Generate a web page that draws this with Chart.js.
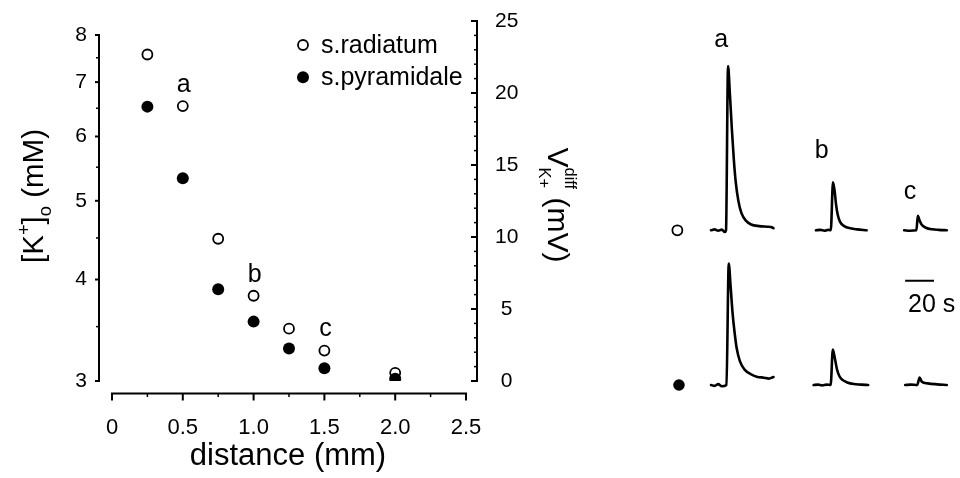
<!DOCTYPE html>
<html><head><meta charset="utf-8">
<script src="https://cdn.jsdelivr.net/npm/chart.js@4.4.1/dist/chart.umd.min.js"></script>
<style>
html,body{margin:0;padding:0;background:#fff;}
#wrap{position:relative;width:960px;height:478px;overflow:hidden;background:#fff;}
#c1{position:absolute;left:0;top:0;}
#c2{position:absolute;left:600px;top:0;}
</style></head><body>
<div id="wrap"><canvas id="c1" width="600" height="478"></canvas><canvas id="c2" width="360" height="478"></canvas></div>
<script>
// ---------- data: left panel ----------
const distanceMm   = [0.25, 0.5, 0.75, 1.0, 1.25, 1.5, 2.0];
const kRadiatum    = [7.57, 6.54, 4.49, 3.82, 3.48, 3.27, 3.07];
const kPyramidale  = [6.53, 5.33, 3.89, 3.55, 3.29, 3.11, 3.02];
const kTickValues  = [3, 4, 5, 6, 7, 8];
const kMinorTicks  = [3.5, 4.5, 5.5, 6.5, 7.5];
const vTickValues  = [0, 5, 10, 15, 20, 25];
const distanceTicks = [0, 0.5, 1.0, 1.5, 2.0, 2.5];
const seriesNames  = ['s.radiatum', 's.pyramidale'];
const pointLabels  = ['a', 'b', 'c'];
const pointLabelDistances = [0.5, 1.0, 1.5];

// ---------- data: right panel traces (time s, V mV) ----------
const tTopA = [0, 2.5, 5, 7.5, 9.6, 10.4, 11.8, 13.1, 14.5, 15.8, 17.1, 18.9, 21.1, 24.5, 27.8, 33.3, 38.9, 41.5, 43.3];
const vTopA = [0, 0.1, -0.05, 0.08, -0.2, 0, 19.2, 15.9, 11.7, 8.3, 5.7, 3.5, 2.0, 1.06, 0.68, 0.49, 0.42, 0.38, 0.25];
const tBotA = [0, 2.5, 5, 7.5, 10.7, 12.3, 13.6, 14.9, 16.3, 17.8, 20, 23.3, 27.8, 32.2, 36.7, 40, 43.3];
const vBotA = [0, -0.1, 0.1, -0.15, 0, 14.2, 11.5, 8.5, 6.2, 4.3, 2.8, 1.8, 1.25, 0.95, 0.86, 0.75, 0.94];
const tTopB = [0, 3, 6, 8.5, 10.3, 11.8, 12.9, 14, 15.1, 16.7, 19.6, 24, 28.5, 35.1];
const vTopB = [0, 0.05, -0.05, 0.05, 0, 5.6, 4.65, 2.95, 1.82, 0.98, 0.49, 0.23, 0.11, 0];
const tBotB = [0, 3, 6, 9, 11.8, 13.3, 14.9, 16.2, 17.8, 20, 23.3, 27.8, 33, 37.8];
const vBotB = [0, 0.05, -0.05, 0.05, 0, 4.16, 2.95, 1.82, 1.06, 0.6, 0.3, 0.11, 0.05, 0];
const tTopC = [0, 4, 8.5, 9.5, 10.7, 12.2, 15.1, 19.6, 24, 29.6];
const vTopC = [0, -0.05, 0, 1.7, 1.14, 0.65, 0.3, 0.11, 0.05, 0];
const tBotC = [0, 4, 8.4, 10, 11.6, 15.6, 22.2, 28.9];
const vBotC = [0, 0.05, 0, 0.86, 0.38, 0.19, 0.08, 0];
const scaleBarSeconds = 20;

// ---------- layout (not data) ----------
const FONT = '"Liberation Sans", Arial, sans-serif';
const traceLayout = [
  {t: tTopA, v: vTopA, row: 'yTop', onset: 72.2},
  {t: tBotA, v: vBotA, row: 'yBot', onset: 72.2},
  {t: tTopB, v: vTopB, row: 'yTop', onset: 144.9},
  {t: tBotB, v: vBotB, row: 'yBot', onset: 143.3},
  {t: tTopC, v: vTopC, row: 'yTop', onset: 206.0},
  {t: tBotC, v: vBotC, row: 'yBot', onset: 206.7}
];

function drawRich(ctx, parts, cx, cy, angle, size) {
  ctx.save();
  ctx.translate(cx, cy);
  ctx.rotate(angle);
  ctx.fillStyle = '#000';
  ctx.textBaseline = 'alphabetic';
  ctx.textAlign = 'left';
  let pending = 0;
  parts.forEach(p => {
    ctx.font = `${size * (p.s || 1)}px ${FONT}`;
    p.w = ctx.measureText(p.t).width;
  });
  const xs = [];
  let x = 0;
  for (let i = 0; i < parts.length; i++) {
    const p = parts[i];
    xs.push(x);
    if (p.stack) { pending = Math.max(pending, p.w); }
    else { x += Math.max(p.w, pending); pending = 0; }
  }
  const total = x;
  const base = 0.36 * size;
  parts.forEach((p, i) => {
    ctx.font = `${size * (p.s || 1)}px ${FONT}`;
    ctx.fillText(p.t, xs[i] - total / 2, base + (p.dy || 0) * size);
  });
  ctx.restore();
}

function seg(ctx, x1, y1, x2, y2) { ctx.beginPath(); ctx.moveTo(x1, y1); ctx.lineTo(x2, y2); ctx.stroke(); }

// ---------- left chart ----------
const leftDecor = {
  id: 'leftDecor',
  afterDraw(chart) {
    const {ctx, chartArea: ca} = chart;
    const x = chart.scales.x, yK = chart.scales.yK, yV = chart.scales.yV;
    ctx.save();
    ctx.strokeStyle = '#000';
    ctx.lineWidth = 2;
    // left log axis
    const xl = ca.left;
    seg(ctx, xl, yK.getPixelForValue(kTickValues[kTickValues.length - 1]) - 1, xl, yK.getPixelForValue(kTickValues[0]) + 1);
    kTickValues.forEach(v => { const y = yK.getPixelForValue(v); seg(ctx, xl - 4, y, xl, y); });
    ctx.lineWidth = 1.5;
    kMinorTicks.forEach(v => { const y = yK.getPixelForValue(v); seg(ctx, xl - 3, y, xl, y); });
    // right linear axis (bracket style, ticks inward)
    ctx.lineWidth = 2;
    const xr = ca.right;
    const v0 = vTickValues[0], v1 = vTickValues[vTickValues.length - 1];
    seg(ctx, xr, yV.getPixelForValue(v1) - 1, xr, yV.getPixelForValue(v0) + 1);
    for (let v = v0; v <= v1; v += 1) {
      const y = yV.getPixelForValue(v);
      const major = vTickValues.includes(v);
      ctx.lineWidth = major ? 2 : 1.5;
      seg(ctx, xr - (major ? 6 : 3), y, xr, y);
    }
    // bottom x axis (offset below plot)
    ctx.lineWidth = 2;
    const yb = ca.bottom + 12.5;
    const d0 = distanceTicks[0], d1 = distanceTicks[distanceTicks.length - 1];
    seg(ctx, x.getPixelForValue(d0) - 1, yb, x.getPixelForValue(d1) + 1, yb);
    for (let v = d0; v <= d1 + 1e-9; v += 0.25) {
      const px = x.getPixelForValue(v);
      const major = distanceTicks.some(t => Math.abs(t - v) < 1e-6);
      ctx.lineWidth = major ? 2 : 1.5;
      seg(ctx, px, yb, px, yb + (major ? 7 : 3.5));
    }
    ctx.restore();

    // legend
    ctx.save();
    const lx = ca.left + 204, ly0 = ca.top + 24, lgap = 32.3;
    chart.data.datasets.forEach((ds, i) => {
      const y = ly0 + i * lgap;
      ctx.beginPath();
      ctx.arc(lx, y, ds.pointRadius, 0, Math.PI * 2);
      ctx.fillStyle = ds.pointBackgroundColor;
      ctx.fill();
      if (ds.pointBorderWidth > 0) { ctx.lineWidth = ds.pointBorderWidth; ctx.strokeStyle = ds.pointBorderColor; ctx.stroke(); }
      ctx.fillStyle = '#000';
      ctx.font = `25px ${FONT}`;
      ctx.textBaseline = 'middle';
      ctx.textAlign = 'left';
      ctx.fillText(ds.label, lx + 18, y + 1);
    });
    // point labels a, b, c
    ctx.font = `25px ${FONT}`;
    ctx.textAlign = 'center';
    ctx.textBaseline = 'middle';
    pointLabels.forEach((lab, i) => {
      const d = pointLabelDistances[i];
      const idx = distanceMm.indexOf(d);
      const px = x.getPixelForValue(d) + 1;
      const py = yK.getPixelForValue(kRadiatum[idx]) - 21;
      ctx.fillText(lab, px, py);
    });
    ctx.restore();

    // axis titles
    drawRich(ctx, [
      {t: '[K'}, {t: '+', s: 0.62, dy: -0.42}, {t: ']'}, {t: 'o', s: 0.62, dy: 0.28}, {t: ' (mM)'}
    ], 32, 196, -Math.PI / 2, 29.5);
    drawRich(ctx, [
      {t: 'V'}, {t: 'K+', s: 0.55, dy: 0.3, stack: true}, {t: 'diff', s: 0.55, dy: -0.55}, {t: ' (mV)'}
    ], 559, 205, Math.PI / 2, 30);
  }
};

const noPadY = s => { s.paddingTop = 0; s.paddingBottom = 0; };

new Chart(document.getElementById('c1'), {
  type: 'scatter',
  data: {
    datasets: [
      {
        label: seriesNames[0],
        data: distanceMm.map((d, i) => ({x: d, y: kRadiatum[i]})),
        pointRadius: 5, pointBorderWidth: 1.8,
        pointBackgroundColor: '#fff', pointBorderColor: '#000',
        yAxisID: 'yK', order: 2
      },
      {
        label: seriesNames[1],
        data: distanceMm.map((d, i) => ({x: d, y: kPyramidale[i]})),
        pointRadius: 6, pointBorderWidth: 0,
        pointBackgroundColor: '#000', pointBorderColor: '#000',
        yAxisID: 'yK', order: 1
      }
    ]
  },
  options: {
    responsive: false,
    animation: false,
    layout: {padding: {top: 21, left: 0, right: 0, bottom: 0}},
    plugins: {legend: {display: false}, tooltip: {enabled: false}},
    scales: {
      x: {
        type: 'linear', position: 'bottom', min: -0.0918, max: 2.5777,
        grid: {display: false, drawTicks: false}, border: {display: false},
        afterBuildTicks: s => { s.ticks = distanceTicks.map(v => ({value: v})); },
        afterFit: s => { s.height = 97; s.paddingLeft = 0; s.paddingRight = 0; },
        ticks: {
          padding: 34, color: '#000', font: {family: FONT, size: 22},
          callback: v => (v === 0 ? '0' : Number(v).toFixed(1))
        },
        title: {display: true, text: 'distance (mm)', color: '#000', font: {family: FONT, size: 31}, padding: {top: 0, bottom: 3}}
      },
      yK: {
        type: 'logarithmic', position: 'left', min: 3, max: 8.324,
        grid: {display: false, drawTicks: false}, border: {display: false},
        afterBuildTicks: s => { s.ticks = kTickValues.map(v => ({value: v})); },
        afterFit: s => { s.width = 99; noPadY(s); },
        ticks: {padding: 12, color: '#000', font: {family: FONT, size: 21}, callback: v => String(v)}
      },
      yV: {
        type: 'linear', position: 'right', min: 0, max: 25,
        grid: {display: false, drawTicks: false}, border: {display: false},
        afterBuildTicks: s => { s.ticks = vTickValues.map(v => ({value: v})); },
        afterFit: s => { s.width = 123; noPadY(s); },
        ticks: {padding: 18, crossAlign: 'center', color: '#000', font: {family: FONT, size: 21}, callback: v => String(v)}
      }
    }
  },
  plugins: [leftDecor]
});

// ---------- right chart: traces ----------
const rightDecor = {
  id: 'rightDecor',
  afterDraw(chart) {
    const {ctx} = chart;
    const x = chart.scales.x, yTop = chart.scales.yTop;
    ctx.save();
    ctx.fillStyle = '#000';
    ctx.font = `25px ${FONT}`;
    ctx.textAlign = 'center';
    ctx.textBaseline = 'middle';
    const letterPos = [[traceLayout[0].onset + 7.1, 22.2], [traceLayout[2].onset + 4.0, 9.3], [traceLayout[4].onset + 4.0, 4.5]];
    pointLabels.forEach((lab, i) => {
      ctx.fillText(lab, x.getPixelForValue(letterPos[i][0]), yTop.getPixelForValue(letterPos[i][1]));
    });
    ctx.textAlign = 'left';
    ctx.fillText(scaleBarSeconds + ' s', x.getPixelForValue(208.7), yTop.getPixelForValue(-8.7));
    ctx.restore();
  }
};

const traceDatasets = traceLayout.map(tr => ({
  type: 'line',
  data: tr.t.map((t, i) => ({x: tr.onset + t, y: tr.v[i]})),
  yAxisID: tr.row,
  borderColor: '#000', borderWidth: 2.6,
  pointRadius: 0, fill: false,
  cubicInterpolationMode: 'monotone',
  borderJoinStyle: 'round', borderCapStyle: 'round'
}));

new Chart(document.getElementById('c2'), {
  type: 'line',
  data: {
    datasets: [
      ...traceDatasets,
      {type: 'scatter', data: [{x: 48.9, y: 0}], yAxisID: 'yTop', pointRadius: 5, pointBorderWidth: 1.8, pointBackgroundColor: '#fff', pointBorderColor: '#000'},
      {type: 'scatter', data: [{x: 50.0, y: 0}], yAxisID: 'yBot', pointRadius: 5.8, pointBorderWidth: 0, pointBackgroundColor: '#000', pointBorderColor: '#000'},
      {type: 'line', data: [{x: 206.7, y: -5.9}, {x: 206.7 + scaleBarSeconds, y: -5.9}], yAxisID: 'yTop', borderColor: '#000', borderWidth: 2, pointRadius: 0}
    ]
  },
  options: {
    responsive: false,
    animation: false,
    layout: {padding: 0},
    plugins: {legend: {display: false}, tooltip: {enabled: false}},
    scales: {
      x: {type: 'linear', display: false, min: 0, max: 240},
      yTop: {type: 'linear', display: false, min: -28.18, max: 26.14},
      yBot: {type: 'linear', display: false, min: -10.08, max: 44.24}
    }
  },
  plugins: [rightDecor]
});
</script>
</body></html>
